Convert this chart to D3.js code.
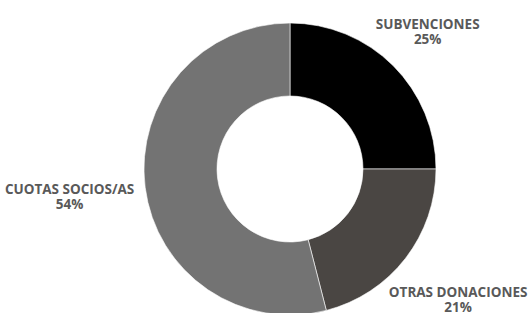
<!DOCTYPE html>
<html><head><meta charset="utf-8">
<script src="https://cdn.jsdelivr.net/npm/d3@7"></script>
<style>html,body{margin:0;padding:0;background:#fff;}svg{display:block;}</style>
</head><body>
<svg id="c" width="528" height="313"></svg>
<script>
const categories = ["SUBVENCIONES", "OTRAS DONACIONES", "CUOTAS SOCIOS/AS"];
const values = [25, 21, 54];
const labels = ["25%", "21%", "54%"];
const colors = ["#000000", "#4a4643", "#737373"];

const cx = 290, cy = 169, outerR = 146, innerR = 73, labelBase = 158;
const svg = d3.select("#c");
const g = svg.append("g").attr("transform", `translate(${cx},${cy})`);

const data = categories.map((c, i) => ({cat: c, v: values[i], lab: labels[i], col: colors[i]}));
const pie = d3.pie().value(d => d.v).sort(null);
const arc = d3.arc().innerRadius(innerR).outerRadius(outerR);
const arcs = pie(data);

g.selectAll("path.slice").data(arcs).join("path")
  .attr("class", "slice")
  .attr("d", arc)
  .attr("fill", d => d.data.col)
  .attr("stroke", "#ffffff").attr("stroke-width", 0.6);

const fs = 13.5, lh = 14.8, capH = 0.714 * fs;
arcs.forEach(a => {
  const mid = (a.startAngle + a.endAngle) / 2;
  const s = Math.sin(mid), c = -Math.cos(mid);
  const t = g.append("text")
    .attr("text-anchor", "middle")
    .attr("font-family", "'Open Sans', sans-serif")
    .attr("font-weight", 700)
    .attr("font-size", fs)
    .attr("fill", "#595959");
  t.append("tspan").attr("x", 0).attr("y", 0).text(a.data.cat);
  t.append("tspan").attr("x", 0).attr("y", lh).text(a.data.lab);
  const bb = t.node().getBBox();
  const hw = bb.width / 2;
  const R = labelBase + Math.abs(s) * hw;
  const px = R * s, py = R * c;
  // visual block: from cap top of line 1 (-capH) to baseline of line 2 (lh)
  const bcy = (-capH + lh) / 2;
  t.attr("transform", `translate(${px},${py - bcy})`);
});
</script>
</body></html>
